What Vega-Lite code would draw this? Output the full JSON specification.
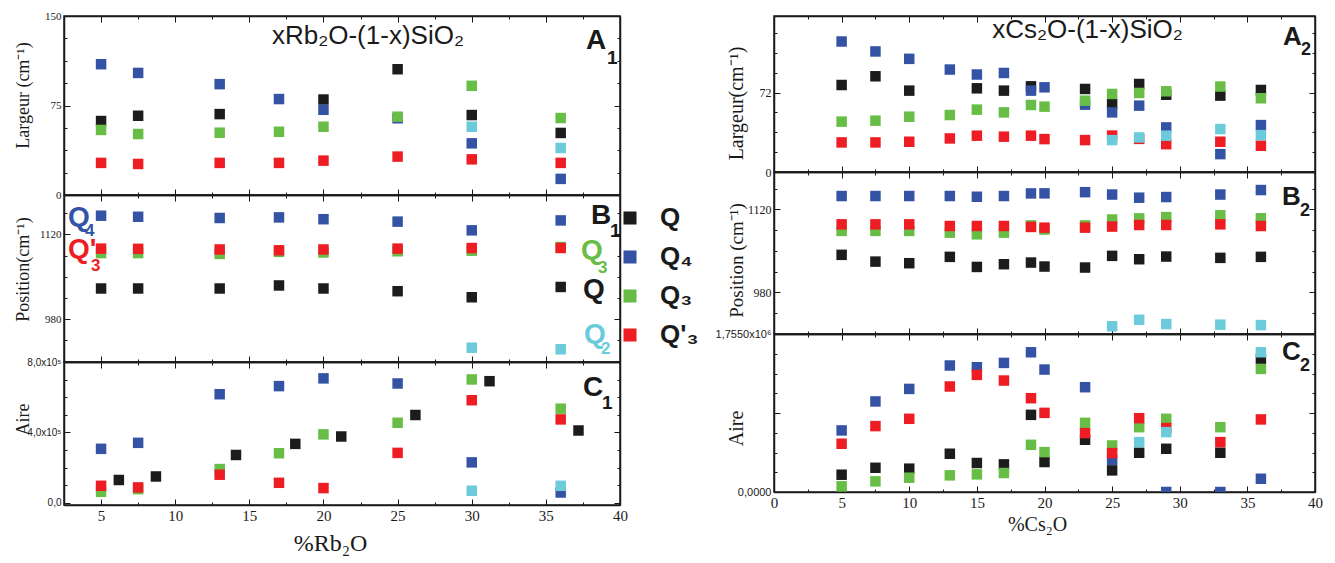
{
"$schema":"https://vega.github.io/schema/vega-lite/v6.json",
"padding":{"left":13,"top":9,"right":0,"bottom":0},
"background":"white",
"config":{
 "font":"Liberation Sans",
 "view":{"stroke":"#1a1a1a","strokeWidth":1.5},
 "axis":{"grid":false,"domainColor":"#1a1a1a","domainWidth":1.5,"tickColor":"#1a1a1a","tickWidth":1,"labelColor":"#1a1a1a","titleColor":"#1a1a1a","labelFlush":false,"labelOverlap":false,"titleFontWeight":"normal"},
 "legend":{"symbolType":"square","symbolSize":170,"symbolStrokeWidth":0,"labelFont":"Liberation Sans","labelFontSize":26,"labelFontWeight":"bold","labelOffset":17,"rowPadding":13,"labelColor":"#1a1a1a"}
},
"datasets":{
 "a1":[
  {"x":5,"s":"Q","v":62},{"x":7.5,"s":"Q","v":66.4},{"x":13,"s":"Q","v":67.8},{"x":20,"s":"Q","v":80},{"x":25,"s":"Q","v":105.4},{"x":30,"s":"Q","v":67},{"x":36,"s":"Q","v":52},
  {"x":5,"s":"Q₄","v":109.6},{"x":7.5,"s":"Q₄","v":102.3},{"x":13,"s":"Q₄","v":92.9},{"x":17,"s":"Q₄","v":80.4},{"x":20,"s":"Q₄","v":71.4},{"x":25,"s":"Q₄","v":64.3},{"x":30,"s":"Q₄","v":43.3},{"x":36,"s":"Q₄","v":13.5},
  {"x":5,"s":"Q₃","v":54.5},{"x":7.5,"s":"Q₃","v":51.1},{"x":13,"s":"Q₃","v":52.2},{"x":17,"s":"Q₃","v":53},{"x":20,"s":"Q₃","v":57.2},{"x":25,"s":"Q₃","v":65.6},{"x":30,"s":"Q₃","v":91.5},{"x":36,"s":"Q₃","v":64.5},
  {"x":5,"s":"Q'₃","v":26.9},{"x":7.5,"s":"Q'₃","v":26},{"x":13,"s":"Q'₃","v":26.9},{"x":17,"s":"Q'₃","v":26.9},{"x":20,"s":"Q'₃","v":28.8},{"x":25,"s":"Q'₃","v":32.2},{"x":30,"s":"Q'₃","v":29.9},{"x":36,"s":"Q'₃","v":26.9},
  {"x":30,"s":"Q₂","v":57.2},{"x":36,"s":"Q₂","v":39.4}
 ],
 "b1":[
  {"x":5,"s":"Q","v":1030.5},{"x":7.5,"s":"Q","v":1030.5},{"x":13,"s":"Q","v":1030.5},{"x":17,"s":"Q","v":1035.5},{"x":20,"s":"Q","v":1030.5},{"x":25,"s":"Q","v":1026},{"x":30,"s":"Q","v":1016},{"x":36,"s":"Q","v":1033},
  {"x":5,"s":"Q₄","v":1150.8},{"x":7.5,"s":"Q₄","v":1149},{"x":13,"s":"Q₄","v":1147},{"x":17,"s":"Q₄","v":1148},{"x":20,"s":"Q₄","v":1145},{"x":25,"s":"Q₄","v":1141},{"x":30,"s":"Q₄","v":1126.6},{"x":36,"s":"Q₄","v":1143},
  {"x":5,"s":"Q₃","v":1089},{"x":7.5,"s":"Q₃","v":1089},{"x":13,"s":"Q₃","v":1087.6},{"x":17,"s":"Q₃","v":1091},{"x":20,"s":"Q₃","v":1090},{"x":25,"s":"Q₃","v":1092},{"x":30,"s":"Q₃","v":1093},{"x":36,"s":"Q₃","v":1099},
  {"x":5,"s":"Q'₃","v":1096.4},{"x":7.5,"s":"Q'₃","v":1096},{"x":13,"s":"Q'₃","v":1095},{"x":17,"s":"Q'₃","v":1093.6},{"x":20,"s":"Q'₃","v":1095},{"x":25,"s":"Q'₃","v":1096.4},{"x":30,"s":"Q'₃","v":1097.4},{"x":36,"s":"Q'₃","v":1097.4},
  {"x":30,"s":"Q₂","v":932.6},{"x":36,"s":"Q₂","v":930}
 ],
 "c1":[
  {"x":6.2,"s":"Q","v":130000},{"x":8.7,"s":"Q","v":150000},{"x":14.1,"s":"Q","v":272000},{"x":18.1,"s":"Q","v":335000},{"x":21.2,"s":"Q","v":377000},{"x":26.2,"s":"Q","v":499000},{"x":31.2,"s":"Q","v":691000},{"x":37.2,"s":"Q","v":411000},
  {"x":5,"s":"Q₄","v":307000},{"x":7.5,"s":"Q₄","v":341000},{"x":13,"s":"Q₄","v":617000},{"x":17,"s":"Q₄","v":663000},{"x":20,"s":"Q₄","v":707000},{"x":25,"s":"Q₄","v":678000},{"x":30,"s":"Q₄","v":230000},{"x":36,"s":"Q₄","v":59000},
  {"x":5,"s":"Q₃","v":63000},{"x":7.5,"s":"Q₃","v":78000},{"x":13,"s":"Q₃","v":192000},{"x":17,"s":"Q₃","v":282000},{"x":20,"s":"Q₃","v":389000},{"x":25,"s":"Q₃","v":455000},{"x":30,"s":"Q₃","v":701000},{"x":36,"s":"Q₃","v":535000},
  {"x":5,"s":"Q'₃","v":97000},{"x":7.5,"s":"Q'₃","v":88000},{"x":13,"s":"Q'₃","v":160000},{"x":17,"s":"Q'₃","v":114000},{"x":20,"s":"Q'₃","v":84000},{"x":25,"s":"Q'₃","v":284000},{"x":30,"s":"Q'₃","v":583000},{"x":36,"s":"Q'₃","v":474000},
  {"x":30,"s":"Q₂","v":69000},{"x":36,"s":"Q₂","v":97000}
 ],
 "a2":[
  {"x":5,"s":"Q","v":78.8},{"x":7.5,"s":"Q","v":86.7},{"x":10,"s":"Q","v":73.7},{"x":15,"s":"Q","v":75.8},{"x":17,"s":"Q","v":73.7},{"x":19,"s":"Q","v":77.6},{"x":23,"s":"Q","v":75.2},{"x":25,"s":"Q","v":61.6},{"x":27,"s":"Q","v":79.7},{"x":29,"s":"Q","v":70},{"x":33,"s":"Q","v":69.2},{"x":36,"s":"Q","v":74.3},
  {"x":5,"s":"Q₄","v":118.2},{"x":7.5,"s":"Q₄","v":109.2},{"x":10,"s":"Q₄","v":102.5},{"x":13,"s":"Q₄","v":92.8},{"x":15,"s":"Q₄","v":88.3},{"x":17,"s":"Q₄","v":89.7},{"x":19,"s":"Q₄","v":73.7},{"x":20,"s":"Q₄","v":76.7},{"x":23,"s":"Q₄","v":61},{"x":25,"s":"Q₄","v":54},{"x":27,"s":"Q₄","v":60.1},{"x":29,"s":"Q₄","v":40.4},{"x":33,"s":"Q₄","v":16.2},{"x":36,"s":"Q₄","v":42.5},
  {"x":5,"s":"Q₃","v":45.6},{"x":7.5,"s":"Q₃","v":46.5},{"x":10,"s":"Q₃","v":50.1},{"x":13,"s":"Q₃","v":51.6},{"x":15,"s":"Q₃","v":56.5},{"x":17,"s":"Q₃","v":54},{"x":19,"s":"Q₃","v":60.7},{"x":20,"s":"Q₃","v":59.2},{"x":23,"s":"Q₃","v":64.6},{"x":25,"s":"Q₃","v":70.7},{"x":27,"s":"Q₃","v":71.6},{"x":29,"s":"Q₃","v":73.1},{"x":33,"s":"Q₃","v":77.4},{"x":36,"s":"Q₃","v":66.8},
  {"x":5,"s":"Q'₃","v":26.8},{"x":7.5,"s":"Q'₃","v":26.8},{"x":10,"s":"Q'₃","v":27.4},{"x":13,"s":"Q'₃","v":30.4},{"x":15,"s":"Q'₃","v":32.9},{"x":17,"s":"Q'₃","v":32},{"x":19,"s":"Q'₃","v":32.9},{"x":20,"s":"Q'₃","v":29.8},{"x":23,"s":"Q'₃","v":28.9},{"x":25,"s":"Q'₃","v":33},{"x":27,"s":"Q'₃","v":30},{"x":29,"s":"Q'₃","v":25.2},{"x":33,"s":"Q'₃","v":27.4},{"x":36,"s":"Q'₃","v":23.8},
  {"x":25,"s":"Q₂","v":28.9},{"x":27,"s":"Q₂","v":31.3},{"x":29,"s":"Q₂","v":32.9},{"x":33,"s":"Q₂","v":38.9},{"x":36,"s":"Q₂","v":33.4}
 ],
 "b2":[
  {"x":5,"s":"Q","v":1043.4},{"x":7.5,"s":"Q","v":1032},{"x":10,"s":"Q","v":1029.3},{"x":13,"s":"Q","v":1040},{"x":15,"s":"Q","v":1023},{"x":17,"s":"Q","v":1027.6},{"x":19,"s":"Q","v":1030.4},{"x":20,"s":"Q","v":1023.7},{"x":23,"s":"Q","v":1022},{"x":25,"s":"Q","v":1041.7},{"x":27,"s":"Q","v":1036},{"x":29,"s":"Q","v":1040.5},{"x":33,"s":"Q","v":1038.3},{"x":36,"s":"Q","v":1040},
  {"x":5,"s":"Q₄","v":1142.5},{"x":7.5,"s":"Q₄","v":1142.5},{"x":10,"s":"Q₄","v":1142.5},{"x":13,"s":"Q₄","v":1142.5},{"x":15,"s":"Q₄","v":1141.3},{"x":17,"s":"Q₄","v":1142.5},{"x":19,"s":"Q₄","v":1146.9},{"x":20,"s":"Q₄","v":1147},{"x":23,"s":"Q₄","v":1149},{"x":25,"s":"Q₄","v":1145},{"x":27,"s":"Q₄","v":1139.7},{"x":29,"s":"Q₄","v":1140.8},{"x":33,"s":"Q₄","v":1145},{"x":36,"s":"Q₄","v":1152.6},
  {"x":5,"s":"Q₃","v":1083.7},{"x":7.5,"s":"Q₃","v":1083.7},{"x":10,"s":"Q₃","v":1083.7},{"x":13,"s":"Q₃","v":1080.8},{"x":15,"s":"Q₃","v":1078},{"x":17,"s":"Q₃","v":1080.8},{"x":19,"s":"Q₃","v":1093},{"x":20,"s":"Q₃","v":1086},{"x":23,"s":"Q₃","v":1093},{"x":25,"s":"Q₃","v":1103},{"x":27,"s":"Q₃","v":1104.9},{"x":29,"s":"Q₃","v":1107},{"x":33,"s":"Q₃","v":1110},{"x":36,"s":"Q₃","v":1105},
  {"x":5,"s":"Q'₃","v":1094.8},{"x":7.5,"s":"Q'₃","v":1094.8},{"x":10,"s":"Q'₃","v":1094.8},{"x":13,"s":"Q'₃","v":1092},{"x":15,"s":"Q'₃","v":1092},{"x":17,"s":"Q'₃","v":1092},{"x":19,"s":"Q'₃","v":1090.4},{"x":20,"s":"Q'₃","v":1089.2},{"x":23,"s":"Q'₃","v":1089.2},{"x":25,"s":"Q'₃","v":1091},{"x":27,"s":"Q'₃","v":1093.7},{"x":29,"s":"Q'₃","v":1093.7},{"x":33,"s":"Q'₃","v":1094.8},{"x":36,"s":"Q'₃","v":1092},
  {"x":25,"s":"Q₂","v":923},{"x":27,"s":"Q₂","v":934},{"x":29,"s":"Q₂","v":926.8},{"x":33,"s":"Q₂","v":925.7},{"x":36,"s":"Q₂","v":925}
 ],
 "c2":[
  {"x":5,"s":"Q","v":192000},{"x":7.5,"s":"Q","v":269000},{"x":10,"s":"Q","v":259000},{"x":13,"s":"Q","v":425000},{"x":15,"s":"Q","v":322000},{"x":17,"s":"Q","v":307000},{"x":19,"s":"Q","v":857000},{"x":20,"s":"Q","v":333000},{"x":23,"s":"Q","v":580000},{"x":25,"s":"Q","v":240000},{"x":27,"s":"Q","v":436000},{"x":29,"s":"Q","v":480000},{"x":33,"s":"Q","v":436000},{"x":36,"s":"Q","v":1478000},
  {"x":5,"s":"Q₄","v":684000},{"x":7.5,"s":"Q₄","v":1006000},{"x":10,"s":"Q₄","v":1145000},{"x":13,"s":"Q₄","v":1405000},{"x":15,"s":"Q₄","v":1386000},{"x":17,"s":"Q₄","v":1434000},{"x":19,"s":"Q₄","v":1552000},{"x":20,"s":"Q₄","v":1360000},{"x":23,"s":"Q₄","v":1164000},{"x":25,"s":"Q₄","v":358000},{"x":29,"s":"Q₄","v":0},{"x":33,"s":"Q₄","v":0},{"x":36,"s":"Q₄","v":147000},
  {"x":5,"s":"Q₃","v":63000},{"x":7.5,"s":"Q₃","v":118000},{"x":10,"s":"Q₃","v":159000},{"x":13,"s":"Q₃","v":185000},{"x":15,"s":"Q₃","v":196000},{"x":17,"s":"Q₃","v":211000},{"x":19,"s":"Q₃","v":524000},{"x":20,"s":"Q₃","v":443000},{"x":23,"s":"Q₃","v":768000},{"x":25,"s":"Q₃","v":517000},{"x":27,"s":"Q₃","v":720000},{"x":29,"s":"Q₃","v":813000},{"x":33,"s":"Q₃","v":720000},{"x":36,"s":"Q₃","v":1367000},
  {"x":5,"s":"Q'₃","v":536000},{"x":7.5,"s":"Q'₃","v":732000},{"x":10,"s":"Q'₃","v":813000},{"x":13,"s":"Q'₃","v":1172000},{"x":15,"s":"Q'₃","v":1301000},{"x":17,"s":"Q'₃","v":1238000},{"x":19,"s":"Q'₃","v":1042000},{"x":20,"s":"Q'₃","v":879000},{"x":23,"s":"Q'₃","v":654000},{"x":25,"s":"Q'₃","v":432000},{"x":27,"s":"Q'₃","v":820000},{"x":29,"s":"Q'₃","v":710000},{"x":33,"s":"Q'₃","v":554000},{"x":36,"s":"Q'₃","v":806000},
  {"x":27,"s":"Q₂","v":554000},{"x":29,"s":"Q₂","v":665000},{"x":36,"s":"Q₂","v":1552000}
 ]
},
"spacing":85,
"hconcat":[
 {"spacing":0,"bounds":"flush","vconcat":[
  {"width":556,"height":179,"data":{"name":"a1"},"layer":[
   {"mark":{"type":"point","shape":"square","filled":true,"size":110,"opacity":1,"clip":true},
    "encoding":{
     "x":{"field":"x","type":"quantitative","scale":{"domain":[2.5,40],"nice":false,"zero":false},"axis":{"orient":"bottom","values":[5,7.5,10,12.5,15,17.5,20,22.5,25,27.5,30,32.5,35,37.5,40],"labels":false,"title":null,"tickSize":{"condition":{"test":"datum.value % 5 === 0","value":-6},"value":-3}}},
     "y":{"field":"v","type":"quantitative","scale":{"domain":[0,150],"nice":false,"zero":false},"axis":{"orient":"left","values":[0,18.75,37.5,56.25,75,93.75,112.5,131.25,150],"labelExpr":"datum.value % 75 === 0 ? '' + datum.value : ''","labelFont":"Liberation Serif","labelFontSize":11,"labelPadding":9,"tickSize":{"condition":{"test":"datum.value % 75 === 0","value":-6},"value":-3},"title":"Largeur (cm⁻¹)","titleFont":"Liberation Serif","titleFontSize":18,"titleX":-32,"titleY":79}},
     "color":{"field":"s","type":"nominal","scale":{"domain":["Q","Q₄","Q₃","Q'₃","Q₂"],"range":["#1c1c1c","#3553a5","#67bd45","#ee1d24","#6ccbdb"]},"legend":{"values":["Q","Q₄","Q₃","Q'₃"],"title":null,"orient":"none","legendX":553,"legendY":189}}
    }},
   {"mark":{"type":"point","opacity":0},
    "encoding":{
     "x":{"field":"x","type":"quantitative","axis":{"orient":"top","values":[5,7.5,10,12.5,15,17.5,20,22.5,25,27.5,30,32.5,35,37.5,40],"labels":false,"title":null,"tickSize":{"condition":{"test":"datum.value % 5 === 0","value":-6},"value":-3}}},
     "y":{"field":"v","type":"quantitative","axis":{"orient":"right","values":[0,18.75,37.5,56.25,75,93.75,112.5,131.25,150],"labels":false,"title":null,"tickSize":{"condition":{"test":"datum.value % 75 === 0","value":-6},"value":-3}}}
    }},
   {"data":{"values":[{}]},"mark":{"type":"text","text":"xRb₂O-(1-x)SiO₂","font":"Liberation Sans","fontSize":26,"align":"center","baseline":"alphabetic","color":"#1a1a1a"},"encoding":{"x":{"datum":23.0,"type":"quantitative","axis":null},"y":{"datum":126.5,"type":"quantitative","axis":null}}},
   {"data":{"values":[{}]},"mark":{"type":"text","text":"A","font":"Liberation Sans","fontWeight":"bold","fontSize":28,"align":"left","baseline":"alphabetic","color":"#1a1a1a"},"encoding":{"x":{"datum":37.71,"type":"quantitative","axis":null},"y":{"datum":122.3,"type":"quantitative","axis":null}}},
   {"data":{"values":[{}]},"mark":{"type":"text","text":"1","font":"Liberation Sans","fontWeight":"bold","fontSize":19,"align":"left","baseline":"alphabetic","dx":21,"dy":15,"color":"#1a1a1a"},"encoding":{"x":{"datum":37.71,"type":"quantitative","axis":null},"y":{"datum":122.3,"type":"quantitative","axis":null}}}
  ]},
  {"width":556,"height":167,"data":{"name":"b1"},"layer":[
   {"mark":{"type":"point","shape":"square","filled":true,"size":110,"opacity":1,"clip":true},
    "encoding":{
     "x":{"field":"x","type":"quantitative","scale":{"domain":[2.5,40],"nice":false,"zero":false},"axis":{"orient":"bottom","values":[5,7.5,10,12.5,15,17.5,20,22.5,25,27.5,30,32.5,35,37.5,40],"labels":false,"title":null,"tickSize":{"condition":{"test":"datum.value % 5 === 0","value":-6},"value":-3}}},
     "y":{"field":"v","type":"quantitative","scale":{"domain":[909,1185],"nice":false,"zero":false},"axis":{"orient":"left","values":[910,945,980,1015,1050,1085,1120,1155],"labelExpr":"datum.value === 980 ? '980' : datum.value === 1120 ? '1120' : ''","labelFont":"Liberation Serif","labelFontSize":11,"labelPadding":9,"tickSize":{"condition":{"test":"datum.value === 980 || datum.value === 1120","value":-6},"value":-3},"title":"Position(cm⁻¹)","titleFont":"Liberation Serif","titleFontSize":18,"titleX":-32,"titleY":74}},
     "color":{"field":"s","type":"nominal","scale":{"domain":["Q","Q₄","Q₃","Q'₃","Q₂"],"range":["#1c1c1c","#3553a5","#67bd45","#ee1d24","#6ccbdb"]},"legend":{"values":["Q","Q₄","Q₃","Q'₃"],"title":null,"orient":"none","legendX":553,"legendY":189}}
    }},
   {"mark":{"type":"point","opacity":0},
    "encoding":{
     "x":{"field":"x","type":"quantitative","axis":{"orient":"top","values":[5,7.5,10,12.5,15,17.5,20,22.5,25,27.5,30,32.5,35,37.5,40],"labels":false,"title":null,"tickSize":{"condition":{"test":"datum.value % 5 === 0","value":-6},"value":-3}}},
     "y":{"field":"v","type":"quantitative","axis":{"orient":"right","values":[910,945,980,1015,1050,1085,1120,1155],"labels":false,"title":null,"tickSize":{"condition":{"test":"datum.value === 980 || datum.value === 1120","value":-6},"value":-3}}}
    }},
   {"data":{"values":[{}]},"mark":{"type":"text","text":"Q","font":"Liberation Sans","fontWeight":"bold","fontSize":28,"align":"left","baseline":"alphabetic","color":"#3553a5"},"encoding":{"x":{"datum":2.77,"type":"quantitative","axis":null},"y":{"datum":1133.8,"type":"quantitative","axis":null}}},
   {"data":{"values":[{}]},"mark":{"type":"text","text":"4","font":"Liberation Sans","fontWeight":"bold","fontSize":17,"align":"left","baseline":"alphabetic","dx":17,"dy":10,"color":"#3553a5"},"encoding":{"x":{"datum":2.77,"type":"quantitative","axis":null},"y":{"datum":1133.8,"type":"quantitative","axis":null}}},
   {"data":{"values":[{}]},"mark":{"type":"text","text":"Q'","font":"Liberation Sans","fontWeight":"bold","fontSize":28,"align":"left","baseline":"alphabetic","color":"#ee1d24"},"encoding":{"x":{"datum":2.77,"type":"quantitative","axis":null},"y":{"datum":1080.9,"type":"quantitative","axis":null}}},
   {"data":{"values":[{}]},"mark":{"type":"text","text":"3","font":"Liberation Sans","fontWeight":"bold","fontSize":17,"align":"left","baseline":"alphabetic","dx":23,"dy":13,"color":"#ee1d24"},"encoding":{"x":{"datum":2.77,"type":"quantitative","axis":null},"y":{"datum":1080.9,"type":"quantitative","axis":null}}},
   {"data":{"values":[{}]},"mark":{"type":"text","text":"B","font":"Liberation Sans","fontWeight":"bold","fontSize":28,"align":"left","baseline":"alphabetic","color":"#1a1a1a"},"encoding":{"x":{"datum":38.04,"type":"quantitative","axis":null},"y":{"datum":1137.1,"type":"quantitative","axis":null}}},
   {"data":{"values":[{}]},"mark":{"type":"text","text":"1","font":"Liberation Sans","fontWeight":"bold","fontSize":19,"align":"left","baseline":"alphabetic","dx":19,"dy":13,"color":"#1a1a1a"},"encoding":{"x":{"datum":38.04,"type":"quantitative","axis":null},"y":{"datum":1137.1,"type":"quantitative","axis":null}}},
   {"data":{"values":[{}]},"mark":{"type":"text","text":"Q","font":"Liberation Sans","fontWeight":"bold","fontSize":28,"align":"left","baseline":"alphabetic","color":"#67bd45"},"encoding":{"x":{"datum":37.37,"type":"quantitative","axis":null},"y":{"datum":1079.2,"type":"quantitative","axis":null}}},
   {"data":{"values":[{}]},"mark":{"type":"text","text":"3","font":"Liberation Sans","fontWeight":"bold","fontSize":17,"align":"left","baseline":"alphabetic","dx":17,"dy":14,"color":"#67bd45"},"encoding":{"x":{"datum":37.37,"type":"quantitative","axis":null},"y":{"datum":1079.2,"type":"quantitative","axis":null}}},
   {"data":{"values":[{}]},"mark":{"type":"text","text":"Q","font":"Liberation Sans","fontWeight":"bold","fontSize":28,"align":"left","baseline":"alphabetic","color":"#1a1a1a"},"encoding":{"x":{"datum":37.5,"type":"quantitative","axis":null},"y":{"datum":1015.3,"type":"quantitative","axis":null}}},
   {"data":{"values":[{}]},"mark":{"type":"text","text":"Q","font":"Liberation Sans","fontWeight":"bold","fontSize":28,"align":"left","baseline":"alphabetic","color":"#6ccbdb"},"encoding":{"x":{"datum":37.57,"type":"quantitative","axis":null},"y":{"datum":940.9,"type":"quantitative","axis":null}}},
   {"data":{"values":[{}]},"mark":{"type":"text","text":"2","font":"Liberation Sans","fontWeight":"bold","fontSize":17,"align":"left","baseline":"alphabetic","dx":17,"dy":11,"color":"#6ccbdb"},"encoding":{"x":{"datum":37.57,"type":"quantitative","axis":null},"y":{"datum":940.9,"type":"quantitative","axis":null}}}
  ]},
  {"width":556,"height":143,"data":{"name":"c1"},"layer":[
   {"mark":{"type":"point","shape":"square","filled":true,"size":110,"opacity":1,"clip":true},
    "encoding":{
     "x":{"field":"x","type":"quantitative","scale":{"domain":[2.5,40],"nice":false,"zero":false},"axis":{"orient":"bottom","values":[5,7.5,10,12.5,15,17.5,20,22.5,25,27.5,30,32.5,35,37.5,40],"labelExpr":"datum.value % 5 === 0 ? '' + datum.value : ''","labelFont":"Liberation Serif","labelFontSize":15,"labelPadding":9,"tickSize":{"condition":{"test":"datum.value % 5 === 0","value":-6},"value":-3},"title":"%Rb₂O","titleFont":"Liberation Serif","titleFontSize":24,"titlePadding":5,"titleX":266,"titleAnchor":"middle"}},
     "y":{"field":"v","type":"quantitative","scale":{"domain":[-12000,800000],"nice":false,"zero":false},"axis":{"orient":"left","values":[0,100000,200000,300000,400000,500000,600000,700000,800000],"labelExpr":"datum.value === 0 ? '0,0' : datum.value === 400000 ? '4,0x10⁵' : datum.value === 800000 ? '8,0x10⁵' : ''","labelFont":"Liberation Sans","labelFontSize":10,"labelPadding":9,"tickSize":{"condition":{"test":"datum.value % 400000 === 0","value":-6},"value":-3},"title":"Aire","titleFont":"Liberation Serif","titleFontSize":18,"titleX":-32,"titleY":57}},
     "color":{"field":"s","type":"nominal","scale":{"domain":["Q","Q₄","Q₃","Q'₃","Q₂"],"range":["#1c1c1c","#3553a5","#67bd45","#ee1d24","#6ccbdb"]},"legend":{"values":["Q","Q₄","Q₃","Q'₃"],"title":null,"orient":"none","legendX":553,"legendY":189}}
    }},
   {"mark":{"type":"point","opacity":0},
    "encoding":{
     "x":{"field":"x","type":"quantitative","axis":{"orient":"top","values":[5,7.5,10,12.5,15,17.5,20,22.5,25,27.5,30,32.5,35,37.5,40],"labels":false,"title":null,"tickSize":{"condition":{"test":"datum.value % 5 === 0","value":-6},"value":-3}}},
     "y":{"field":"v","type":"quantitative","axis":{"orient":"right","values":[0,100000,200000,300000,400000,500000,600000,700000,800000],"labels":false,"title":null,"tickSize":{"condition":{"test":"datum.value % 400000 === 0","value":-6},"value":-3}}}
    }},
   {"data":{"values":[{}]},"mark":{"type":"text","text":"C","font":"Liberation Sans","fontWeight":"bold","fontSize":28,"align":"left","baseline":"alphabetic","color":"#1a1a1a"},"encoding":{"x":{"datum":37.5,"type":"quantitative","axis":null},"y":{"datum":607000,"type":"quantitative","axis":null}}},
   {"data":{"values":[{}]},"mark":{"type":"text","text":"1","font":"Liberation Sans","fontWeight":"bold","fontSize":19,"align":"left","baseline":"alphabetic","dx":19,"dy":13,"color":"#1a1a1a"},"encoding":{"x":{"datum":37.5,"type":"quantitative","axis":null},"y":{"datum":607000,"type":"quantitative","axis":null}}}
  ]}
 ]},
 {"spacing":0,"bounds":"flush","vconcat":[
  {"width":541,"height":156,"data":{"name":"a2"},"layer":[
   {"mark":{"type":"point","shape":"square","filled":true,"size":110,"opacity":1,"clip":true},
    "encoding":{
     "x":{"field":"x","type":"quantitative","scale":{"domain":[0,40],"nice":false,"zero":false},"axis":{"orient":"bottom","values":[0,2.5,5,7.5,10,12.5,15,17.5,20,22.5,25,27.5,30,32.5,35,37.5,40],"labels":false,"title":null,"tickSize":{"condition":{"test":"datum.value % 5 === 0","value":-6},"value":-3}}},
     "y":{"field":"v","type":"quantitative","scale":{"domain":[0,141.3],"nice":false,"zero":false},"axis":{"orient":"left","values":[0,18,36,54,72,90,108,126],"labelExpr":"datum.value === 0 || datum.value === 72 ? '' + datum.value : ''","labelFont":"Liberation Serif","labelFontSize":12,"labelPadding":9,"tickSize":{"condition":{"test":"datum.value % 72 === 0","value":-6},"value":-3},"title":"Largeur(cm⁻¹)","titleFont":"Liberation Serif","titleFontSize":20,"titleX":-28,"titleY":87}},
     "color":{"field":"s","type":"nominal","scale":{"domain":["Q","Q₄","Q₃","Q'₃","Q₂"],"range":["#1c1c1c","#3553a5","#67bd45","#ee1d24","#6ccbdb"]},"legend":{"values":["Q","Q₄","Q₃","Q'₃"],"title":null,"orient":"none","legendX":553,"legendY":189}}
    }},
   {"mark":{"type":"point","opacity":0},
    "encoding":{
     "x":{"field":"x","type":"quantitative","axis":{"orient":"top","values":[0,2.5,5,7.5,10,12.5,15,17.5,20,22.5,25,27.5,30,32.5,35,37.5,40],"labels":false,"title":null,"tickSize":{"condition":{"test":"datum.value % 5 === 0","value":-6},"value":-3}}},
     "y":{"field":"v","type":"quantitative","axis":{"orient":"right","values":[0,18,36,54,72,90,108,126],"labels":false,"title":null,"tickSize":{"condition":{"test":"datum.value % 72 === 0","value":-6},"value":-3}}}
    }},
   {"data":{"values":[{}]},"mark":{"type":"text","text":"xCs₂O-(1-x)SiO₂","font":"Liberation Sans","fontSize":26,"align":"center","baseline":"alphabetic","color":"#1a1a1a"},"encoding":{"x":{"datum":23.18,"type":"quantitative","axis":null},"y":{"datum":121.4,"type":"quantitative","axis":null}}},
   {"data":{"values":[{}]},"mark":{"type":"text","text":"A","font":"Liberation Sans","fontWeight":"bold","fontSize":26,"align":"left","baseline":"alphabetic","color":"#1a1a1a"},"encoding":{"x":{"datum":37.63,"type":"quantitative","axis":null},"y":{"datum":115,"type":"quantitative","axis":null}}},
   {"data":{"values":[{}]},"mark":{"type":"text","text":"2","font":"Liberation Sans","fontWeight":"bold","fontSize":18,"align":"left","baseline":"alphabetic","dx":18,"dy":10,"color":"#1a1a1a"},"encoding":{"x":{"datum":37.63,"type":"quantitative","axis":null},"y":{"datum":115,"type":"quantitative","axis":null}}}
  ]},
  {"width":541,"height":162,"data":{"name":"b2"},"layer":[
   {"mark":{"type":"point","shape":"square","filled":true,"size":110,"opacity":1,"clip":true},
    "encoding":{
     "x":{"field":"x","type":"quantitative","scale":{"domain":[0,40],"nice":false,"zero":false},"axis":{"orient":"bottom","values":[0,2.5,5,7.5,10,12.5,15,17.5,20,22.5,25,27.5,30,32.5,35,37.5,40],"labels":false,"title":null,"tickSize":{"condition":{"test":"datum.value % 5 === 0","value":-6},"value":-3}}},
     "y":{"field":"v","type":"quantitative","scale":{"domain":[910,1183],"nice":false,"zero":false},"axis":{"orient":"left","values":[910,945,980,1015,1050,1085,1120,1155],"labelExpr":"datum.value === 980 ? '980' : datum.value === 1120 ? '1120' : ''","labelFont":"Liberation Serif","labelFontSize":12,"labelPadding":9,"tickSize":{"condition":{"test":"datum.value === 980 || datum.value === 1120","value":-6},"value":-3},"title":"Position (cm⁻¹)","titleFont":"Liberation Serif","titleFontSize":19,"titleX":-28,"titleY":88}},
     "color":{"field":"s","type":"nominal","scale":{"domain":["Q","Q₄","Q₃","Q'₃","Q₂"],"range":["#1c1c1c","#3553a5","#67bd45","#ee1d24","#6ccbdb"]},"legend":{"values":["Q","Q₄","Q₃","Q'₃"],"title":null,"orient":"none","legendX":553,"legendY":189}}
    }},
   {"mark":{"type":"point","opacity":0},
    "encoding":{
     "x":{"field":"x","type":"quantitative","axis":{"orient":"top","values":[0,2.5,5,7.5,10,12.5,15,17.5,20,22.5,25,27.5,30,32.5,35,37.5,40],"labels":false,"title":null,"tickSize":{"condition":{"test":"datum.value % 5 === 0","value":-6},"value":-3}}},
     "y":{"field":"v","type":"quantitative","axis":{"orient":"right","values":[910,945,980,1015,1050,1085,1120,1155],"labels":false,"title":null,"tickSize":{"condition":{"test":"datum.value === 980 || datum.value === 1120","value":-6},"value":-3}}}
    }},
   {"data":{"values":[{}]},"mark":{"type":"text","text":"B","font":"Liberation Sans","fontWeight":"bold","fontSize":26,"align":"left","baseline":"alphabetic","color":"#1a1a1a"},"encoding":{"x":{"datum":37.56,"type":"quantitative","axis":null},"y":{"datum":1127.4,"type":"quantitative","axis":null}}},
   {"data":{"values":[{}]},"mark":{"type":"text","text":"2","font":"Liberation Sans","fontWeight":"bold","fontSize":18,"align":"left","baseline":"alphabetic","dx":18,"dy":11,"color":"#1a1a1a"},"encoding":{"x":{"datum":37.56,"type":"quantitative","axis":null},"y":{"datum":1127.4,"type":"quantitative","axis":null}}}
  ]},
  {"width":541,"height":158,"data":{"name":"c2"},"layer":[
   {"mark":{"type":"point","shape":"square","filled":true,"size":110,"opacity":1,"clip":true},
    "encoding":{
     "x":{"field":"x","type":"quantitative","scale":{"domain":[0,40],"nice":false,"zero":false},"axis":{"orient":"bottom","values":[0,2.5,5,7.5,10,12.5,15,17.5,20,22.5,25,27.5,30,32.5,35,37.5,40],"labelExpr":"datum.value % 5 === 0 ? '' + datum.value : ''","labelFont":"Liberation Serif","labelFontSize":15,"labelPadding":9,"tickSize":{"condition":{"test":"datum.value % 5 === 0","value":-6},"value":-3},"title":"%Cs₂O","titleFont":"Liberation Serif","titleFontSize":20,"titlePadding":1,"titleX":263,"titleAnchor":"middle"}},
     "y":{"field":"v","type":"quantitative","scale":{"domain":[0,1755000],"nice":false,"zero":false},"axis":{"orient":"left","values":[0,219375,438750,658125,877500,1096875,1316250,1535625,1755000],"labelExpr":"datum.value === 0 ? '0,0000' : datum.value === 1755000 ? '1,7550x10⁶' : ''","labelFont":"Liberation Sans","labelFontSize":11,"labelPadding":9,"tickSize":{"condition":{"test":"datum.value === 0 || datum.value === 877500 || datum.value === 1755000","value":-6},"value":-3},"title":"Aire","titleFont":"Liberation Serif","titleFontSize":20,"titleX":-28,"titleY":94}},
     "color":{"field":"s","type":"nominal","scale":{"domain":["Q","Q₄","Q₃","Q'₃","Q₂"],"range":["#1c1c1c","#3553a5","#67bd45","#ee1d24","#6ccbdb"]},"legend":{"values":["Q","Q₄","Q₃","Q'₃"],"title":null,"orient":"none","legendX":553,"legendY":189}}
    }},
   {"mark":{"type":"point","opacity":0},
    "encoding":{
     "x":{"field":"x","type":"quantitative","axis":{"orient":"top","values":[0,2.5,5,7.5,10,12.5,15,17.5,20,22.5,25,27.5,30,32.5,35,37.5,40],"labels":false,"title":null,"tickSize":{"condition":{"test":"datum.value % 5 === 0","value":-6},"value":-3}}},
     "y":{"field":"v","type":"quantitative","axis":{"orient":"right","values":[0,219375,438750,658125,877500,1096875,1316250,1535625,1755000],"labels":false,"title":null,"tickSize":{"condition":{"test":"datum.value === 0 || datum.value === 877500 || datum.value === 1755000","value":-6},"value":-3}}}
    }},
   {"data":{"values":[{}]},"mark":{"type":"text","text":"C","font":"Liberation Sans","fontWeight":"bold","fontSize":26,"align":"left","baseline":"alphabetic","color":"#1a1a1a"},"encoding":{"x":{"datum":37.56,"type":"quantitative","axis":null},"y":{"datum":1466000,"type":"quantitative","axis":null}}},
   {"data":{"values":[{}]},"mark":{"type":"text","text":"2","font":"Liberation Sans","fontWeight":"bold","fontSize":18,"align":"left","baseline":"alphabetic","dx":18,"dy":11,"color":"#1a1a1a"},"encoding":{"x":{"datum":37.56,"type":"quantitative","axis":null},"y":{"datum":1466000,"type":"quantitative","axis":null}}}
  ]}
 ]}
]
}
